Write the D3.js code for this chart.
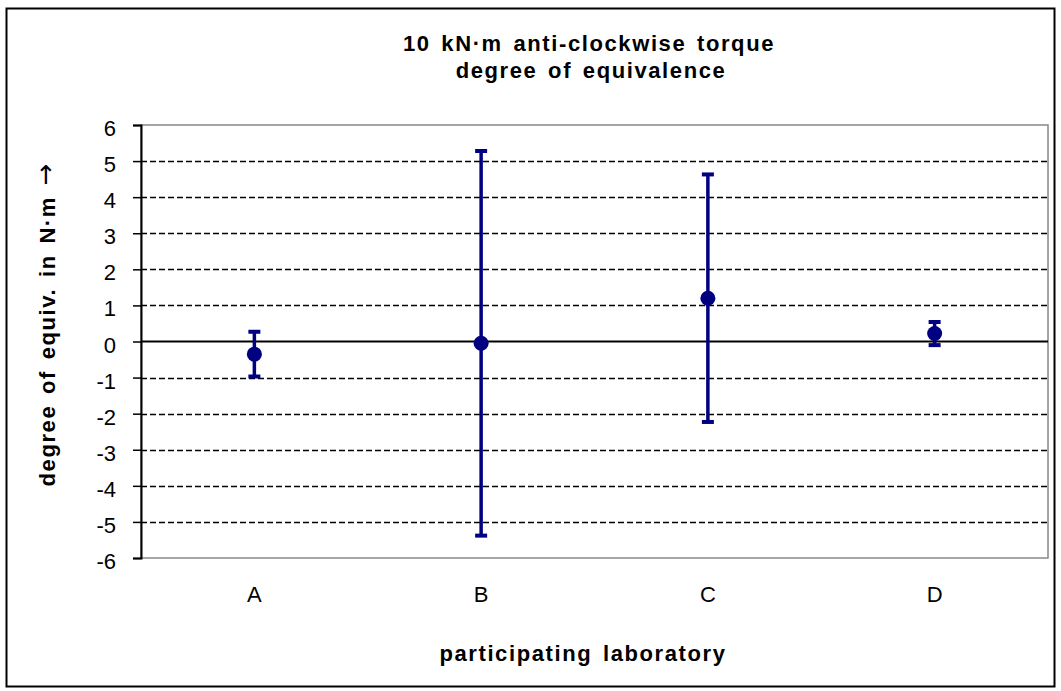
<!DOCTYPE html>
<html>
<head>
<meta charset="utf-8">
<script src="https://cdn.jsdelivr.net/npm/d3@7"></script>
<style>
  body { margin: 0; background: #fff; }
  text { font-family: Arial, "Liberation Sans", sans-serif; }
</style>
</head>
<body>
<div id="chart"></div>
<script>
  // labs, degree of equivalence and its expanded uncertainty (N·m)
  var labs = ["A", "B", "C", "D"];
  var values = [-0.35, -0.05, 1.2, 0.22];
  var uncert = [0.62, 5.33, 3.43, 0.32];
  var yTicks = [-6, -5, -4, -3, -2, -1, 0, 1, 2, 3, 4, 5, 6];

  var W = 1061, H = 691;
  var margin = {top: 125, right: 13, bottom: 133, left: 141};
  var width = W - margin.left - margin.right,
      height = H - margin.top - margin.bottom;

  var svg = d3.select("#chart").append("svg")
    .attr("width", W).attr("height", H);

  // outer frame
  svg.append("rect")
    .attr("x", 6.5).attr("y", 8.5)
    .attr("width", 1048).attr("height", 678)
    .attr("fill", "none").attr("stroke", "#000").attr("stroke-width", 2);

  var g = svg.append("g")
    .attr("transform", "translate(" + margin.left + "," + margin.top + ")");

  var x = d3.scaleBand().domain(labs).range([0, width]);
  var y = d3.scaleLinear().domain([-6, 6]).range([height, 0]);

  // plot area border (grey)
  g.append("rect")
    .attr("width", width).attr("height", height)
    .attr("fill", "none").attr("stroke", "#888").attr("stroke-width", 1.5);

  // dashed gridlines
  g.selectAll(".grid")
    .data(yTicks.filter(function(d){ return d != 0 && Math.abs(d) != 6; }))
    .enter().append("line")
      .attr("x1", 0).attr("x2", width)
      .attr("y1", function(d){ return Math.round(y(d)) + 0.5; })
      .attr("y2", function(d){ return Math.round(y(d)) + 0.5; })
      .attr("stroke", "#000").attr("stroke-width", 1.4)
      .style("stroke-dasharray", "6,3");

  // zero line
  g.append("line")
    .attr("x1", 0).attr("x2", width)
    .attr("y1", y(0)).attr("y2", y(0))
    .attr("stroke", "#000").attr("stroke-width", 2);

  // y axis
  var yAxis = g.append("g")
    .call(d3.axisLeft(y).tickValues(yTicks).tickSize(8).tickPadding(17)
      .tickFormat(function(d){ return String(d); }));
  yAxis.select(".domain").attr("stroke-width", 2);
  yAxis.selectAll(".tick line").attr("stroke-width", 1.5);
  yAxis.selectAll("text").attr("font-size", 22).attr("dy", "0.48em").attr("fill", "#000");

  // x labels
  g.selectAll(".xlab")
    .data(labs)
    .enter().append("text")
      .attr("x", function(d){ return x(d) + x.bandwidth() / 2; })
      .attr("y", height + 44)
      .attr("text-anchor", "middle")
      .attr("font-size", 22)
      .text(function(d){ return d; });

  var navy = "#000080";
  var data = labs.map(function(d, i){ return {lab: d, v: values[i], u: uncert[i]}; });

  var bars = g.selectAll(".err").data(data).enter().append("g");
  bars.append("line")
    .attr("x1", function(d){ return x(d.lab) + x.bandwidth() / 2; })
    .attr("x2", function(d){ return x(d.lab) + x.bandwidth() / 2; })
    .attr("y1", function(d){ return y(d.v + d.u); })
    .attr("y2", function(d){ return y(d.v - d.u); })
    .attr("stroke", navy).attr("stroke-width", 3.5);
  [1, -1].forEach(function(s){
    bars.append("line")
      .attr("x1", function(d){ return x(d.lab) + x.bandwidth() / 2 - 6; })
      .attr("x2", function(d){ return x(d.lab) + x.bandwidth() / 2 + 6; })
      .attr("y1", function(d){ return y(d.v + s * d.u); })
      .attr("y2", function(d){ return y(d.v + s * d.u); })
      .attr("stroke", navy).attr("stroke-width", 4);
  });
  bars.append("circle")
    .attr("cx", function(d){ return x(d.lab) + x.bandwidth() / 2; })
    .attr("cy", function(d){ return y(d.v); })
    .attr("r", 7.5)
    .attr("fill", navy);

  function label(sel) {
    return sel.attr("font-size", 22).attr("font-weight", "bold")
      .style("letter-spacing", "1.6px").style("word-spacing", "3px");
  }

  // titles
  label(svg.append("text")
    .attr("x", 589).attr("y", 51)
    .attr("text-anchor", "middle"))
    .text("10 kN·m anti-clockwise torque");
  label(svg.append("text")
    .attr("x", 591).attr("y", 78)
    .attr("text-anchor", "middle"))
    .text("degree of equivalence");

  label(svg.append("text")
    .attr("x", 583).attr("y", 661)
    .attr("text-anchor", "middle"))
    .text("participating laboratory");

  var yl = svg.append("text")
    .attr("transform", "translate(55,325) rotate(-90)")
    .attr("text-anchor", "middle")
    .attr("font-size", 22);
  yl.append("tspan").attr("font-weight", "bold")
    .style("letter-spacing", "1.6px").style("word-spacing", "3px")
    .text("degree of equiv. in N·m  ");
  yl.append("tspan")
    .style("font-family", "'DejaVu Sans', sans-serif")
    .attr("font-size", 26).attr("dy", "-1")
    .text("→");
</script>
</body>
</html>
